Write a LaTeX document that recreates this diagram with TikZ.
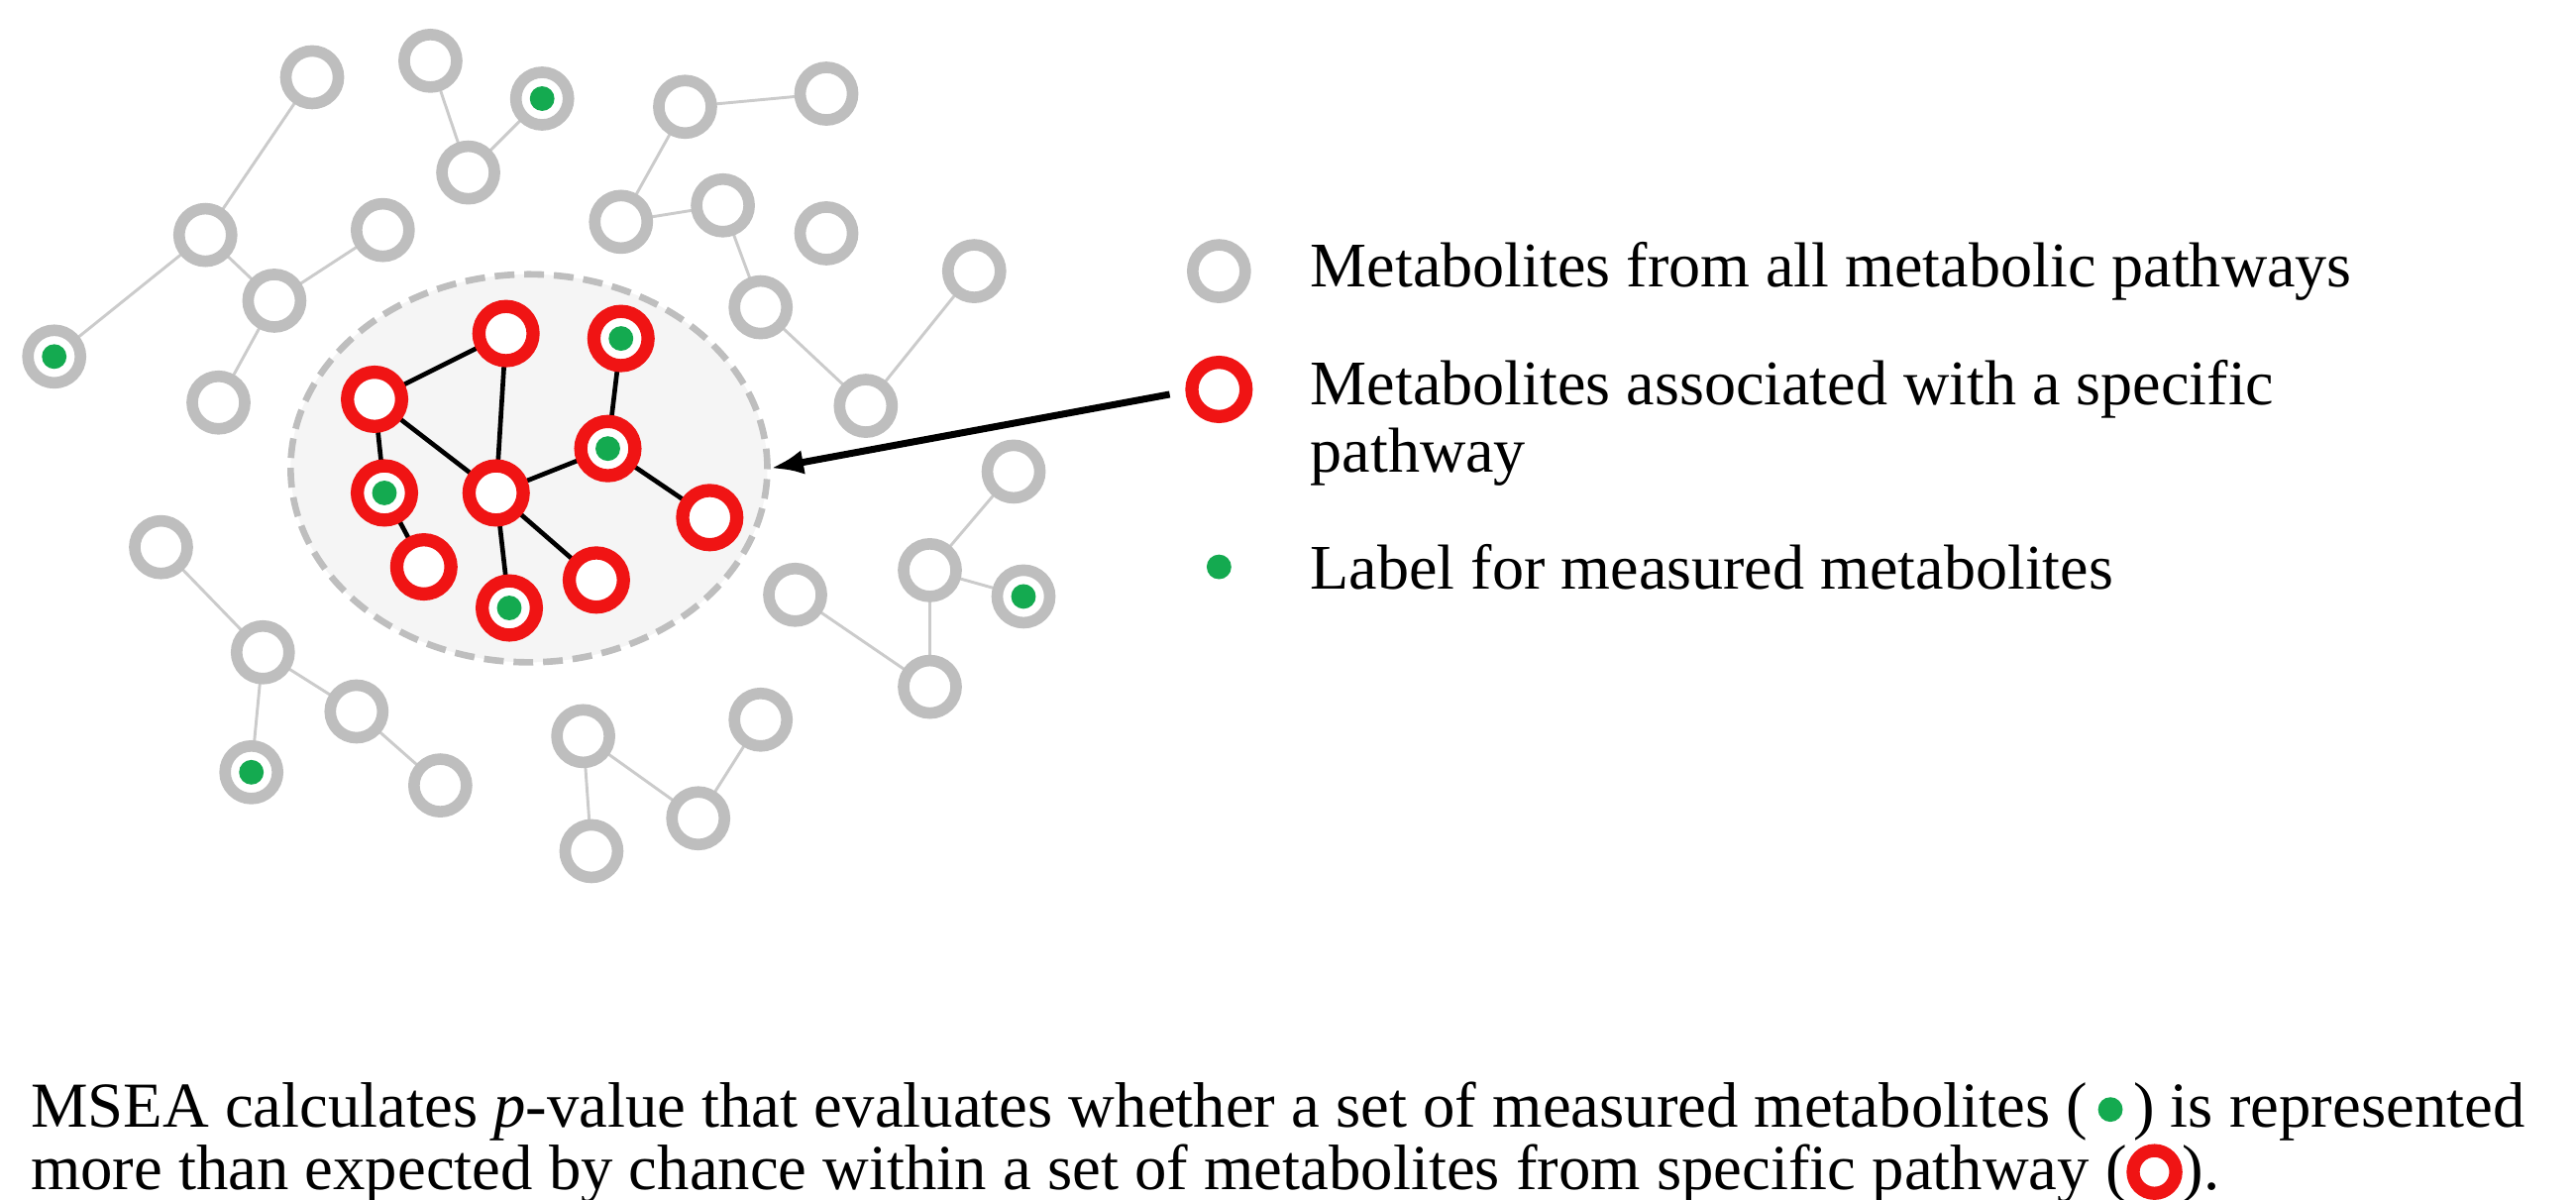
\documentclass[tikz,border=0pt]{standalone}
\usepackage{fontspec}
\setmainfont{Liberation Serif}
\usetikzlibrary{shapes.geometric,arrows.meta}
\definecolor{ggray}{RGB}{190,190,190}
\definecolor{rred}{RGB}{240,20,20}
\definecolor{ggreen}{RGB}{20,170,80}
\begin{document}
\begin{tikzpicture}[x=0.01cm,y=-0.01cm,
 gnode/.style={circle,draw=ggray,line width=0.07cm,minimum size=0.32cm,inner sep=0pt,fill=white},
 rnode/.style={circle,draw=rred,line width=0.08cm,minimum size=0.33cm,inner sep=0pt,fill=white},
 gdot/.style={circle,fill=ggreen,minimum size=0.15cm,inner sep=0pt},
 gedge/.style={draw=ggray!80,line width=0.5pt},
 redge/.style={draw=black,line width=0.8pt},
 txt/.style={anchor=west,font=\fontsize{11}{13}\selectfont,inner sep=0pt},
 ctxt/.style={anchor=base west,font=\fontsize{11.1}{13}\selectfont,inner sep=0pt}]
\useasboundingbox (0,0) rectangle (1568,730);
\node[draw=ggray,line width=0.04cm,dash pattern=on 0.12cm off 0.06cm,fill=gray!8,ellipse,minimum width=2.9cm,minimum height=2.36cm] (ell) at (322,285) {};
\foreach \n/\x/\y in {g1/190/47,g2/262/37,g3/330/60,g4/285/105,g5/417/65,g6/503/57,g7/125/143,g8/233/140,g9/378/135,g10/440/125,g11/503/142,g12/167/183,g13/463/187,g14/593/165,g15/33/217,g16/133/245,g17/527/247,g18/617/287,g19/98/333,g20/484/362,g21/566/347,g22/623/363,g23/160/397,g24/217/433,g25/566/418,g26/463/438,g27/355/448,g28/153/470,g29/268/478,g30/425/498,g31/360/518}
 \coordinate (\n) at (\x,\y);
\foreach \a/\b in {g1/g7,g2/g4,g4/g3,g5/g6,g5/g9,g7/g15,g7/g12,g12/g8,g12/g16,g10/g13,g10/g9,g14/g17,g13/g17,g18/g21,g21/g22,g21/g25,g20/g25,g19/g23,g23/g28,g23/g24,g27/g31,g27/g30,g30/g26,g24/g29}
 \draw[gedge] (\a) -- (\b);
\foreach \n in {g1,g2,g3,g4,g5,g6,g7,g8,g9,g10,g11,g12,g13,g14,g15,g16,g17,g18,g19,g20,g21,g22,g23,g24,g25,g26,g27,g28,g29,g30,g31}
 \node[gnode] (N\n) at (\n) {};
\foreach \n in {g3,g15,g22,g28} \node[gdot] at (\n) {};
\foreach \n/\x/\y in {r1/308/203,r2/378/206,r3/228/243,r4/370/273,r5/234/300,r6/302/300,r7/432/315,r8/258/345,r9/363/353,r10/310/370}
 \coordinate (\n) at (\x,\y);
\foreach \a/\b in {r3/r1,r1/r6,r3/r6,r3/r5,r5/r8,r6/r10,r6/r9,r6/r4,r4/r2,r4/r7}
 \draw[redge] (\a) -- (\b);
\foreach \n in {r1,r2,r3,r4,r5,r6,r7,r8,r9,r10} \node[rnode] (N\n) at (\n) {};
\foreach \n in {r2,r4,r5,r10} \node[gdot] at (\n) {};
\node[gnode] (L1) at (742,165) {};
\node[rnode] (L2) at (742,237) {};
\node[gdot] (L3) at (742,345) {};
\coordinate (arrs) at (712,240);
\draw[-{Latex[length=0.2cm]},line width=1.2pt] (arrs) -- (ell.east);
\node[txt] (t1) at (797,165) {Metabolites from all metabolic pathways};
\node[txt] (t2) at (797,237) {Metabolites associated with a specific};
\node[txt] (t2b) at (797,278) {pathway};
\node[txt] (t3) at (797,345) {Label for measured metabolites};
\node[ctxt] (c1) at (18,686) {MSEA calculates \textit{p}-value that evaluates whether a set of measured metabolites (\,\tikz[baseline=-0.6ex]\node[gdot]{};\,) is represented};
\node[ctxt] (c2) at (18,724) {more than expected by chance within a set of metabolites from specific pathway (\tikz[baseline=-0.6ex]\node[rnode,minimum size=0.26cm]{};).};
\end{tikzpicture}
\end{document}
